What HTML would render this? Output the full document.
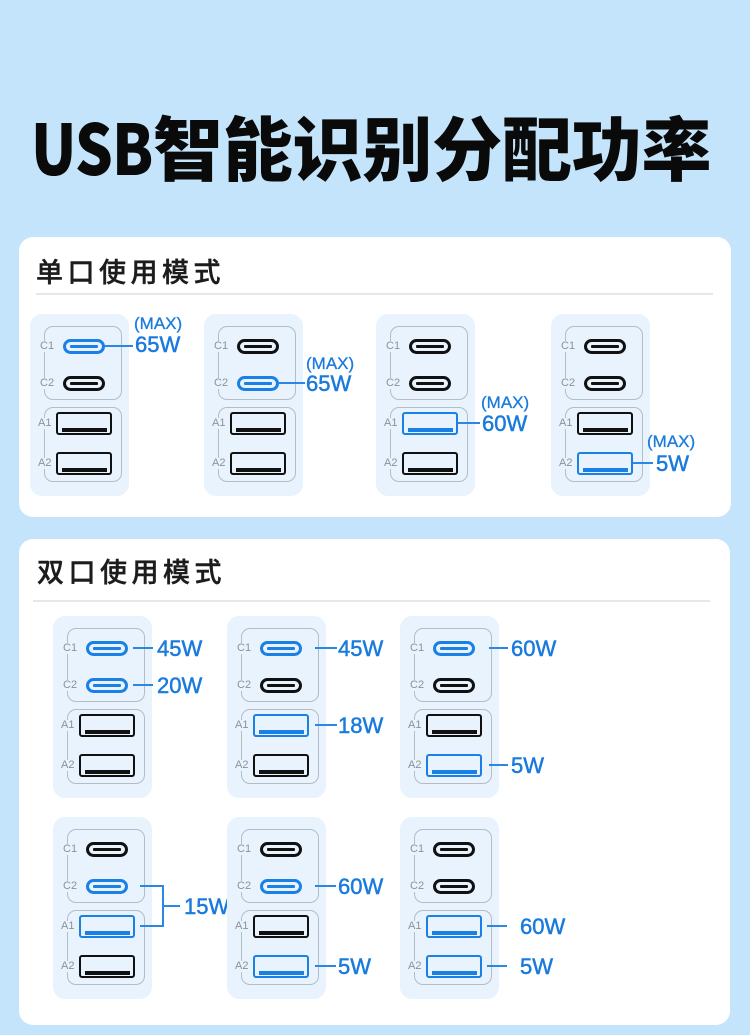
<!DOCTYPE html>
<html><head><meta charset="utf-8">
<style>
*{margin:0;padding:0}
html,body{width:750px;height:1035px;overflow:hidden;background:#c3e4fa;position:relative}
.title{position:absolute;left:31px;top:111px;font:900 70px/70px "Noto Sans CJK SC","WenQuanYi Zen Hei",sans-serif;color:#0a0a0a;white-space:nowrap;letter-spacing:-0.2px}
.usb{display:inline-block;transform:scaleX(0.85);transform-origin:0 50%;margin-right:-21px;letter-spacing:-1px}
.card{position:absolute;background:#fff;border-radius:14px}
.hd{position:absolute;font:500 27px/27px "Noto Sans CJK SC",sans-serif;color:#1c1c1c;letter-spacing:4.5px;white-space:nowrap;-webkit-text-stroke:0.4px #1c1c1c}
.dv{position:absolute;height:2px;background:#e6e7e8}
.m{position:absolute;width:99px;height:182px;background:#e8f3fd;border-radius:12px}
.cb,.ab{position:absolute;left:14px;width:78px;box-sizing:border-box;border:1px solid #b4bcc6;border-radius:9px}
.cb{top:12px;height:74px}
.ab{top:93px;height:75px}
.p{position:absolute;box-sizing:border-box;border-style:solid;border-color:#111}
.c{left:33px;width:42px;height:15px;border-width:3px;border-radius:8px}
.c::after{content:"";position:absolute;left:4px;right:4px;top:3px;height:3px;background:#111;border-radius:1px}
.a{left:26px;width:56px;height:23px;border-width:2.5px;border-radius:3px}
.a::after{content:"";position:absolute;left:3.5px;right:3.5px;bottom:1.5px;height:4px;background:#111}
.p.b{border-color:#1a80e6}
.p.b::after{background:#1a80e6}
.l{position:absolute;font:11px/11px "Liberation Sans",sans-serif;color:#8a929a;background:#e8f3fd;padding:0 1px}
.ln{position:absolute;height:2px;background:#2a88e4}
.t{position:absolute;font:22px/22px "Liberation Sans",sans-serif;color:#1a7bdc;white-space:nowrap;-webkit-text-stroke:0.5px #1a7bdc}
.s{font-size:17px;line-height:17px;-webkit-text-stroke:0.3px #1a7bdc}
</style></head><body>

<div class="title"><span class="usb">USB</span>智能识别分配功率</div>

<div class="card" style="left:19px;top:237px;width:712px;height:280px"></div>
<div class="hd" style="left:36px;top:257px">单口使用模式</div>
<div class="dv" style="left:36px;top:293px;width:677px"></div>

<div class="card" style="left:19px;top:539px;width:711px;height:486px"></div>
<div class="hd" style="left:37px;top:557px">双口使用模式</div>
<div class="dv" style="left:33px;top:600px;width:677px"></div>

<!-- Section 1 -->
<div class="m" style="left:30px;top:314px">
<div class="cb"></div><div class="ab"></div>
<div class="p c b" style="top:25px"></div><div class="p c" style="top:62px"></div>
<div class="p a" style="top:98px"></div><div class="p a" style="top:138px"></div>
<span class="l" style="left:9px;top:27px">C1</span><span class="l" style="left:9px;top:64px">C2</span>
<span class="l" style="left:7px;top:104px">A1</span><span class="l" style="left:7px;top:144px">A2</span>
</div>
<div class="ln" style="left:105px;top:345px;width:28px"></div>
<div class="t s" style="left:134px;top:315px">(MAX)</div>
<div class="t" style="left:135px;top:334px">65W</div>

<div class="m" style="left:204px;top:314px">
<div class="cb"></div><div class="ab"></div>
<div class="p c" style="top:25px"></div><div class="p c b" style="top:62px"></div>
<div class="p a" style="top:98px"></div><div class="p a" style="top:138px"></div>
<span class="l" style="left:9px;top:27px">C1</span><span class="l" style="left:9px;top:64px">C2</span>
<span class="l" style="left:7px;top:104px">A1</span><span class="l" style="left:7px;top:144px">A2</span>
</div>
<div class="ln" style="left:279px;top:382px;width:26px"></div>
<div class="t s" style="left:306px;top:355px">(MAX)</div>
<div class="t" style="left:306px;top:373px">65W</div>

<div class="m" style="left:376px;top:314px">
<div class="cb"></div><div class="ab"></div>
<div class="p c" style="top:25px"></div><div class="p c" style="top:62px"></div>
<div class="p a b" style="top:98px"></div><div class="p a" style="top:138px"></div>
<span class="l" style="left:9px;top:27px">C1</span><span class="l" style="left:9px;top:64px">C2</span>
<span class="l" style="left:7px;top:104px">A1</span><span class="l" style="left:7px;top:144px">A2</span>
</div>
<div class="ln" style="left:458px;top:422px;width:22px"></div>
<div class="t s" style="left:481px;top:394px">(MAX)</div>
<div class="t" style="left:482px;top:413px">60W</div>

<div class="m" style="left:551px;top:314px">
<div class="cb"></div><div class="ab"></div>
<div class="p c" style="top:25px"></div><div class="p c" style="top:62px"></div>
<div class="p a" style="top:98px"></div><div class="p a b" style="top:138px"></div>
<span class="l" style="left:9px;top:27px">C1</span><span class="l" style="left:9px;top:64px">C2</span>
<span class="l" style="left:7px;top:104px">A1</span><span class="l" style="left:7px;top:144px">A2</span>
</div>
<div class="ln" style="left:633px;top:462px;width:20px"></div>
<div class="t s" style="left:647px;top:433px">(MAX)</div>
<div class="t" style="left:656px;top:453px">5W</div>

<!-- Section 2 row 1 -->
<div class="m" style="left:53px;top:616px">
<div class="cb"></div><div class="ab"></div>
<div class="p c b" style="top:25px"></div><div class="p c b" style="top:62px"></div>
<div class="p a" style="top:98px"></div><div class="p a" style="top:138px"></div>
<span class="l" style="left:9px;top:27px">C1</span><span class="l" style="left:9px;top:64px">C2</span>
<span class="l" style="left:7px;top:104px">A1</span><span class="l" style="left:7px;top:144px">A2</span>
</div>
<div class="ln" style="left:133px;top:647px;width:20px"></div>
<div class="ln" style="left:133px;top:684px;width:20px"></div>
<div class="t" style="left:157px;top:638px">45W</div>
<div class="t" style="left:157px;top:675px">20W</div>

<div class="m" style="left:227px;top:616px">
<div class="cb"></div><div class="ab"></div>
<div class="p c b" style="top:25px"></div><div class="p c" style="top:62px"></div>
<div class="p a b" style="top:98px"></div><div class="p a" style="top:138px"></div>
<span class="l" style="left:9px;top:27px">C1</span><span class="l" style="left:9px;top:64px">C2</span>
<span class="l" style="left:7px;top:104px">A1</span><span class="l" style="left:7px;top:144px">A2</span>
</div>
<div class="ln" style="left:315px;top:647px;width:22px"></div>
<div class="ln" style="left:315px;top:724px;width:22px"></div>
<div class="t" style="left:338px;top:638px">45W</div>
<div class="t" style="left:338px;top:715px">18W</div>

<div class="m" style="left:400px;top:616px">
<div class="cb"></div><div class="ab"></div>
<div class="p c b" style="top:25px"></div><div class="p c" style="top:62px"></div>
<div class="p a" style="top:98px"></div><div class="p a b" style="top:138px"></div>
<span class="l" style="left:9px;top:27px">C1</span><span class="l" style="left:9px;top:64px">C2</span>
<span class="l" style="left:7px;top:104px">A1</span><span class="l" style="left:7px;top:144px">A2</span>
</div>
<div class="ln" style="left:489px;top:647px;width:19px"></div>
<div class="ln" style="left:489px;top:764px;width:19px"></div>
<div class="t" style="left:511px;top:638px">60W</div>
<div class="t" style="left:511px;top:755px">5W</div>

<!-- Section 2 row 2 -->
<div class="m" style="left:53px;top:817px">
<div class="cb"></div><div class="ab"></div>
<div class="p c" style="top:25px"></div><div class="p c b" style="top:62px"></div>
<div class="p a b" style="top:98px"></div><div class="p a" style="top:138px"></div>
<span class="l" style="left:9px;top:27px">C1</span><span class="l" style="left:9px;top:64px">C2</span>
<span class="l" style="left:7px;top:104px">A1</span><span class="l" style="left:7px;top:144px">A2</span>
</div>
<div class="ln" style="left:140px;top:885px;width:24px"></div>
<div class="ln" style="left:140px;top:925px;width:24px"></div>
<div class="ln" style="left:162px;top:885px;width:2px;height:42px"></div>
<div class="ln" style="left:163px;top:905px;width:17px"></div>
<div class="t" style="left:184px;top:896px">15W</div>

<div class="m" style="left:227px;top:817px">
<div class="cb"></div><div class="ab"></div>
<div class="p c" style="top:25px"></div><div class="p c b" style="top:62px"></div>
<div class="p a" style="top:98px"></div><div class="p a b" style="top:138px"></div>
<span class="l" style="left:9px;top:27px">C1</span><span class="l" style="left:9px;top:64px">C2</span>
<span class="l" style="left:7px;top:104px">A1</span><span class="l" style="left:7px;top:144px">A2</span>
</div>
<div class="ln" style="left:315px;top:885px;width:21px"></div>
<div class="ln" style="left:315px;top:965px;width:21px"></div>
<div class="t" style="left:338px;top:876px">60W</div>
<div class="t" style="left:338px;top:956px">5W</div>

<div class="m" style="left:400px;top:817px">
<div class="cb"></div><div class="ab"></div>
<div class="p c" style="top:25px"></div><div class="p c" style="top:62px"></div>
<div class="p a b" style="top:98px"></div><div class="p a b" style="top:138px"></div>
<span class="l" style="left:9px;top:27px">C1</span><span class="l" style="left:9px;top:64px">C2</span>
<span class="l" style="left:7px;top:104px">A1</span><span class="l" style="left:7px;top:144px">A2</span>
</div>
<div class="ln" style="left:487px;top:925px;width:20px"></div>
<div class="ln" style="left:487px;top:965px;width:20px"></div>
<div class="t" style="left:520px;top:916px">60W</div>
<div class="t" style="left:520px;top:956px">5W</div>

</body></html>
